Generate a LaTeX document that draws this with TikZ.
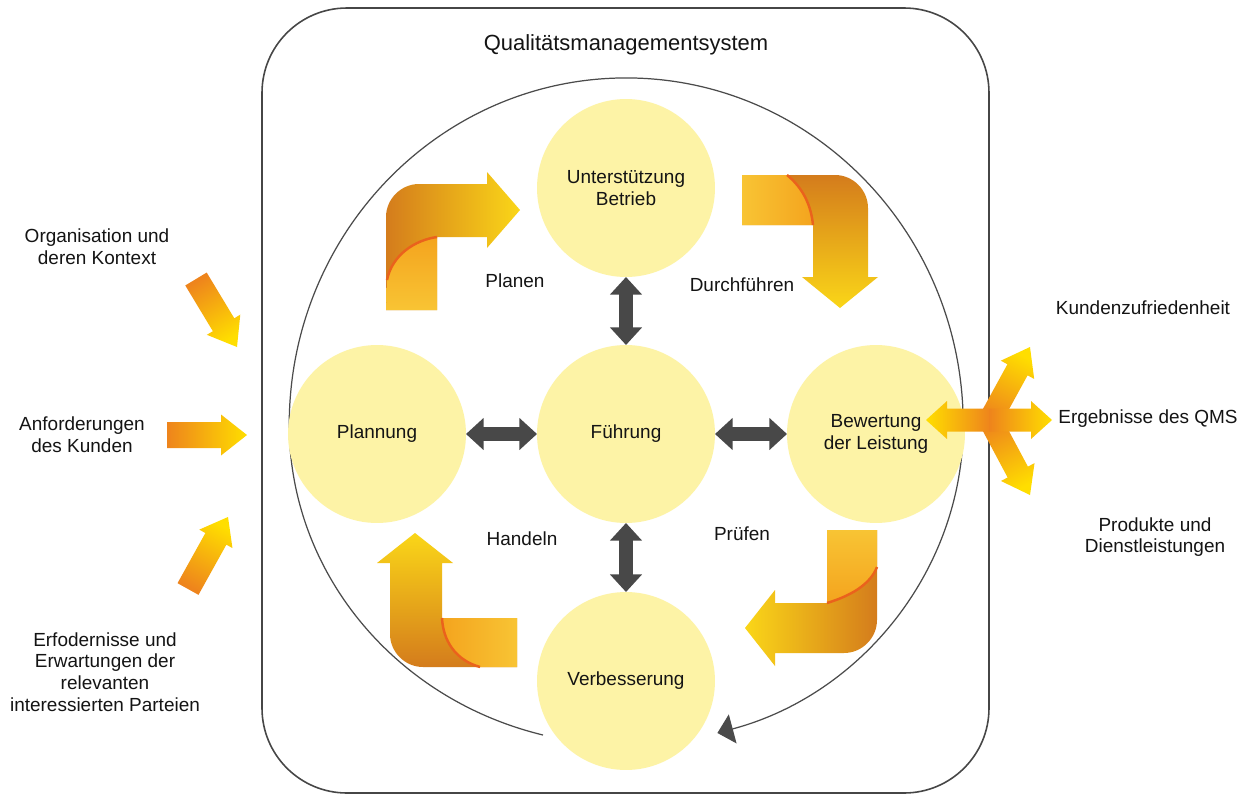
\documentclass[tikz,border=0pt]{standalone}
\usepackage{fontspec}
\setmainfont{Liberation Sans}
\usetikzlibrary{calc,arrows.meta}

\definecolor{circfill}{RGB}{253,243,166}
\definecolor{framegray}{RGB}{70,70,70}
\definecolor{cyclegray}{RGB}{75,75,75}
\definecolor{arrowgray}{RGB}{72,72,72}
\definecolor{textblack}{RGB}{20,20,20}
\definecolor{ylw}{RGB}{255,222,0}
\definecolor{orng}{RGB}{238,132,28}
\definecolor{ribbonorng}{RGB}{244,164,30}
\definecolor{ribbonylw}{RGB}{250,214,24}
\definecolor{darkorng}{RGB}{212,124,28}
\definecolor{frontlight}{RGB}{248,196,52}
\definecolor{foldred}{RGB}{234,98,28}

% straight fat arrow: tail, tip, shaft half width, head half width, head length (px), shading
\newcommand\fatarrow[6]{%
  \coordinate (fa-hb) at ($(#2)!#5*0.02cm!(#1)$);
  \shade[#6] ($(#1)!#3*0.02cm!90:(#2)$) -- ($(fa-hb)!#3*0.02cm!90:(#2)$)
    -- ($(fa-hb)!#4*0.02cm!90:(#2)$) -- (#2)
    -- ($(fa-hb)!#4*0.02cm!-90:(#2)$) -- ($(fa-hb)!#3*0.02cm!-90:(#2)$)
    -- ($(#1)!#3*0.02cm!-90:(#2)$) -- cycle;
}

\begin{document}
\begin{tikzpicture}[x=0.02cm, y=-0.02cm,
  stage/.style={circle, fill=circfill, minimum size=3.56cm, inner sep=0pt, outer sep=0pt,
    align=center, font=\fontsize{10.8}{12.6}\selectfont, text=textblack},
  lbl/.style={align=center, font=\fontsize{10.8}{12.4}\selectfont, text=textblack, inner sep=0pt},
  link/.style={draw=arrowgray, line width=8.5pt,
    arrows={Triangle[width=17.6pt,length=10pt]-Triangle[width=17.6pt,length=10pt]}},
  fold/.style={draw=foldred, line width=1.4pt},
]
\useasboundingbox (0,0) rectangle (1245,795);
\fill[white] (0,0) rectangle (1245,795);

% system frame and title
\draw[framegray, line width=0.9pt, rounded corners=1.7cm] (262,8) rectangle (989,793);
\node[font=\fontsize{12.5}{14}\selectfont, text=textblack] (title) at (626,45) {Qualitätsmanagementsystem};

% PDCA cycle line
\draw[cyclegray, line width=0.7pt, -{Triangle[width=17pt,length=9pt]}]
  (543,735) arc[start angle=104.3, end angle=180, x radius=337, y radius=320]
  arc[start angle=180, end angle=360, x radius=337, y radius=347]
  arc[start angle=0, end angle=74.3, x radius=337, y radius=320];

% stages
\node[stage] (unter) at (626,188) {Unterstützung\\Betrieb};
\node[stage] (plan)  at (377,434) {Plannung};
\node[stage] (fuehr) at (626,434) {Führung};
\node[stage] (bew)   at (876,434) {Bewertung\\der Leistung};
\node[stage] (verb)  at (626,681) {Verbesserung};

\draw[link] (fuehr) -- (unter);
\draw[link] (fuehr) -- (verb);
\draw[link] (fuehr) -- (plan);
\draw[link] (fuehr) -- (bew);

% phase labels
\node[lbl] (planen)  at (515,281) {Planen};
\node[lbl] (durch)   at (742,285) {Durchführen};
\node[lbl] (handeln) at (522,539) {Handeln};
\node[lbl] (pruefen) at (742,534) {Prüfen};

% Planen: bent arrow pointing right
\shade[left color=darkorng, middle color=ribbonorng, right color=ribbonylw]
  (386,310) -- (386,217) .. controls (386,199) and (401,184) .. (419,184) -- (487,184)
  -- (487,172) -- (520,210) -- (487,248) -- (487,237) -- (437,237) -- (437,310) -- cycle;
\shade[top color=ribbonorng, bottom color=frontlight]
  (437,237) .. controls (415,240) and (392,255) .. (387,280) -- (386,310) -- (437,310) -- cycle;
\draw[fold] (437,237) .. controls (415,240) and (392,255) .. (387,280);

% Durchfuehren: bent arrow pointing down
\shade[top color=darkorng, middle color=ribbonorng, bottom color=ribbonylw]
  (742,175) -- (835,175) .. controls (853,175) and (868,190) .. (868,208) -- (868,277)
  -- (878,277) -- (840,308) -- (802,277) -- (813,277) -- (813,225) -- (742,225) -- cycle;
\shade[left color=frontlight, right color=ribbonorng]
  (742,175) -- (787,175) .. controls (803,188) and (811,205) .. (813,225) -- (742,225) -- cycle;
\draw[fold] (787,175) .. controls (803,188) and (811,205) .. (813,225);

% Handeln: bent arrow pointing up
\shade[bottom color=darkorng, middle color=ribbonorng, top color=ribbonylw]
  (390,563) -- (377,563) -- (415,533) -- (453,563) -- (442,563) -- (442,618) -- (517,618)
  -- (517,667) -- (423,667) .. controls (405,667) and (390,652) .. (390,634) -- cycle;
\shade[left color=ribbonorng, right color=frontlight]
  (442,618) .. controls (443,640) and (455,660) .. (480,667) -- (517,667) -- (517,618) -- cycle;
\draw[fold] (442,618) .. controls (443,640) and (455,660) .. (480,667);

% Pruefen: bent arrow pointing left
\shade[right color=darkorng, middle color=ribbonorng, left color=ribbonylw]
  (877,530) -- (877,620) .. controls (877,638) and (862,653) .. (844,653) -- (775,653)
  -- (775,666) -- (745,628) -- (775,590) -- (775,603) -- (827,603) -- (827,530) -- cycle;
\shade[top color=frontlight, bottom color=ribbonorng]
  (827,530) -- (877,530) -- (877,567) .. controls (870,585) and (850,596) .. (827,603) -- cycle;
\draw[fold] (877,567) .. controls (870,585) and (850,596) .. (827,603);

% inputs
\node[lbl] (org) at (97,247)  {Organisation und\\deren Kontext};
\node[lbl] (anf) at (82,435)  {Anforderungen\\des Kunden};
\node[lbl] (erf) at (105,672) {Erfodernisse und\\Erwartungen der\\relevanten\\interessierten Parteien};

\coordinate (in1a) at (196,279); \coordinate (in1b) at (237,347);
\coordinate (in2a) at (167,435); \coordinate (in2b) at (247,435);
\coordinate (in3a) at (188,589); \coordinate (in3b) at (228,517);
\fatarrow{in1a}{in1b}{12.5}{19.5}{26}{top color=ylw, bottom color=orng, shading angle=-148.9}
\fatarrow{in2a}{in2b}{13}{20.5}{26}{left color=orng, right color=ylw}
\fatarrow{in3a}{in3b}{12}{19}{25}{top color=ylw, bottom color=orng, shading angle=-29.1}

% outputs
\coordinate (oc) at (990,420);
\coordinate (oup) at (1030,347);
\coordinate (odn) at (1030,495);
\fatarrow{oc}{oup}{11.5}{19}{26}{top color=ylw, bottom color=orng, shading angle=-28.7}
\fatarrow{oc}{odn}{11.5}{19}{26}{top color=ylw, bottom color=orng, shading angle=-151.9}
\shade[left color=ylw, right color=orng]
  (926,420) -- (947,401) -- (947,408.5) -- (990,408.5) -- (990,431.5) -- (947,431.5)
  -- (947,439) -- cycle;
\shade[left color=orng, right color=ylw]
  (989.5,408.5) -- (1031,408.5) -- (1031,401) -- (1052,420) -- (1031,439) -- (1031,431.5)
  -- (989.5,431.5) -- cycle;

\node[lbl] (kund) at (1143,308) {Kundenzufriedenheit};
\node[lbl] (erg)  at (1148,419) {Ergebnisse des QMS};
\node[lbl] (prod) at (1155,537) {Produkte und\\Dienstleistungen};
\end{tikzpicture}
\end{document}
